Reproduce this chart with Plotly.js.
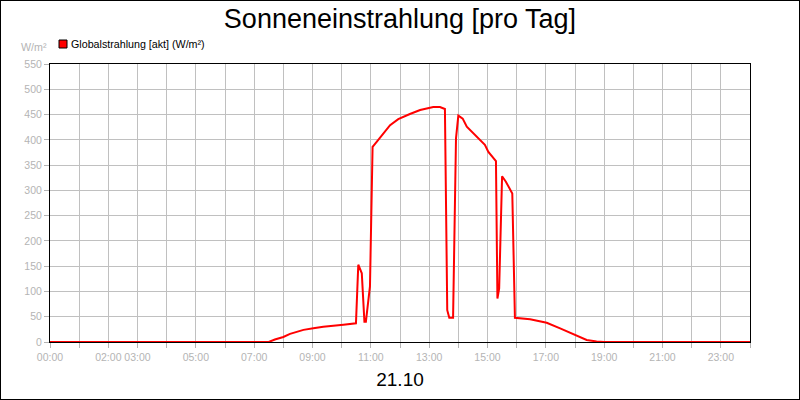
<!DOCTYPE html>
<html>
<head>
<meta charset="utf-8">
<script src="https://cdn.plot.ly/plotly-3.0.1.min.js"></script>
<style>
html,body{margin:0;padding:0;background:#fff;}
#chart{width:798px;height:398px;border:1px solid #000;}
</style>
</head>
<body>
<div id="chart"></div>
<script>
// Data (hours of day, W/m²)
const hours = [0, 7.5, 7.71, 8.0, 8.23, 8.69, 9.03, 9.37, 10.06, 10.49, 10.57, 10.69, 10.78, 10.83, 10.97,
  11.06, 11.2, 11.43, 11.66, 11.94, 12.17, 12.34, 12.69, 13.14, 13.37, 13.54, 13.62, 13.69, 13.82, 13.92,
  14.0, 14.15, 14.29, 14.63, 14.91, 15.03, 15.29, 15.34, 15.40, 15.50, 15.63, 15.85, 15.94, 16.46,
  17.03, 17.49, 17.83, 18.17, 18.4, 18.74, 19.0, 24];
const globalstrahlung = [0, 0, 5, 10, 16, 24, 27, 30, 34, 37, 153, 136, 40, 40, 110,
  386, 396, 413, 429, 441, 446, 451, 459, 465, 465, 461, 63, 48, 48, 403,
  448, 442, 426, 406, 390, 376, 358, 86, 106, 328, 317, 294, 48, 45,
  38, 27, 18, 9, 4, 1, 0, 0];
const tickHours = [0,1,2,3,4,5,6,7,8,9,10,11,12,13,14,15,16,17,18,19,20,21,22,23,24];
const tickLabels = ['00:00','','02:00','03:00','','05:00','','07:00','','09:00','','11:00','','13:00','','15:00','','17:00','','19:00','','21:00','','23:00',''];
const yTicks = [0,50,100,150,200,250,300,350,400,450,500,550];
const seriesName = 'Globalstrahlung [akt] (W/m²)';
const titleText = 'Sonneneinstrahlung [pro Tag]';
const dateLabel = '21.10';
const unitLabel = 'W/m²';

const gray = '#b4b4b4';
const grid = '#c0c0c0';
const font = 'Liberation Sans, Arial, sans-serif';
const plotW = 700, plotH = 278;

const trace = {
  x: hours, y: globalstrahlung, type: 'scatter', mode: 'lines',
  name: seriesName, showlegend: false,
  line: {color: '#ff0000', width: 2}
};

const layout = {
  width: 798, height: 398,
  margin: {l: 49, r: 49, t: 63, b: 57},
  paper_bgcolor: '#fff', plot_bgcolor: '#fff',
  font: {family: font},
  title: {text: titleText, font: {family: font, size: 27, color: '#000'}, x: 0.5, xanchor: 'center', y: 0.955, yanchor: 'middle'},
  xaxis: {
    range: [0, 24], tickmode: 'array', tickvals: tickHours, ticktext: tickLabels,
    showgrid: true, gridcolor: grid, gridwidth: 1,
    showline: true, linecolor: '#000', linewidth: 1, mirror: true,
    ticks: 'outside', ticklen: 5, tickcolor: gray,
    tickfont: {family: font, size: 10.5, color: gray},
    zeroline: false, fixedrange: true,
    title: {text: dateLabel, font: {family: font, size: 19, color: '#000'}, standoff: 11}
  },
  yaxis: {
    range: [0, 550], tickmode: 'array', tickvals: yTicks,
    showgrid: true, gridcolor: grid, gridwidth: 1,
    showline: true, linecolor: '#000', linewidth: 1, mirror: true,
    ticks: 'outside', ticklen: 5, tickcolor: gray,
    tickfont: {family: font, size: 10.5, color: gray},
    zeroline: false, fixedrange: true
  },
  shapes: [
    {type: 'rect', xref: 'paper', yref: 'paper',
     x0: 9/plotW, x1: 17/plotW, y0: (342-48)/plotH, y1: (342-40)/plotH,
     fillcolor: '#ff0000', line: {color: '#000', width: 1}}
  ],
  annotations: [
    {text: seriesName, xref: 'paper', yref: 'paper', x: 19/plotW, y: (342-44)/plotH,
     xanchor: 'left', yanchor: 'middle', showarrow: false,
     font: {family: font, size: 10.7, color: '#000'}},
    {text: unitLabel, xref: 'paper', yref: 'paper', x: -1/plotW, y: (342-47)/plotH,
     xanchor: 'right', yanchor: 'middle', showarrow: false,
     font: {family: font, size: 10.7, color: gray}}
  ]
};

Plotly.newPlot('chart', [trace], layout, {displayModeBar: false, staticPlot: true});
</script>
</body>
</html>
